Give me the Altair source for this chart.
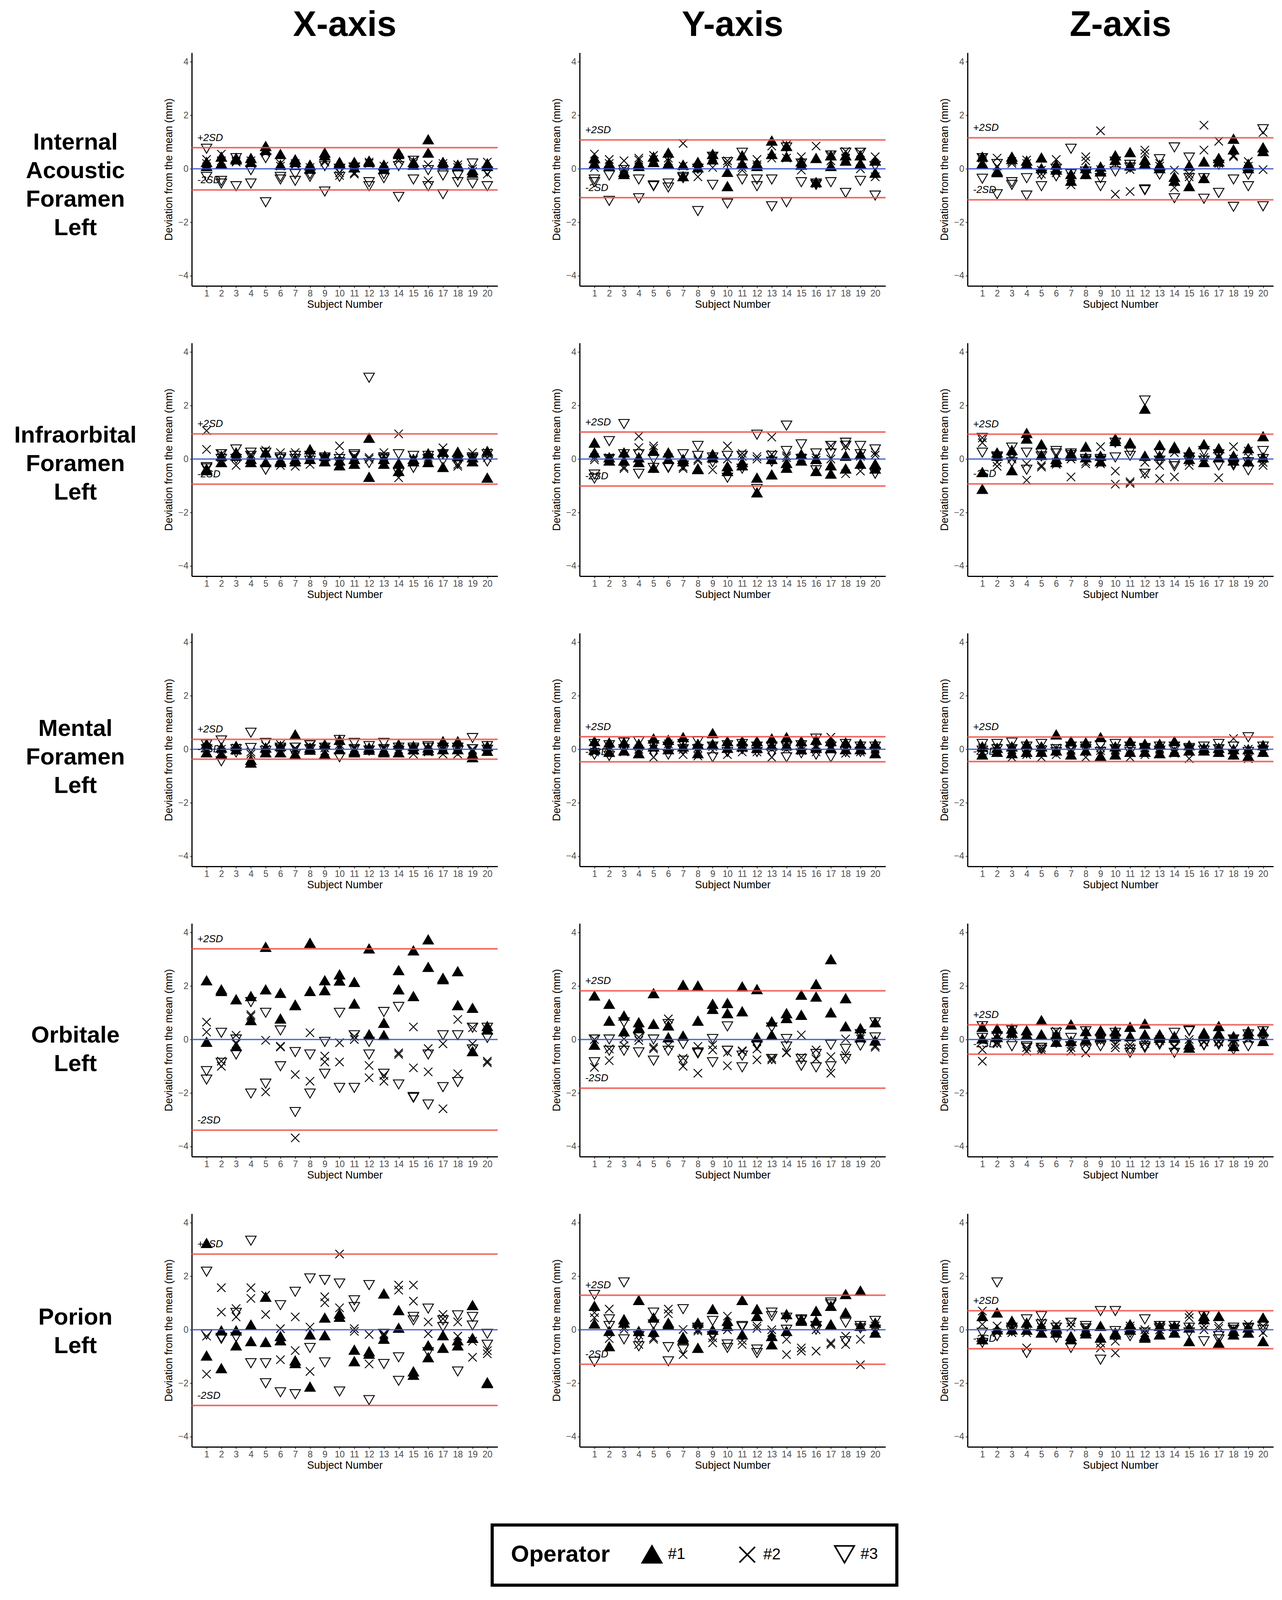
import altair as alt
import pandas as pd

SUBJECTS = list(range(1, 21))
OPERATORS = ["#1", "#2", "#3"]
SHAPES = ["triangle-up", "M-0.8,-0.8L0.8,0.8M-0.8,0.8L0.8,-0.8", "triangle-down"]
FILLS = ["black", "transparent", "transparent"]
STROKES = ["black", "black", "black"]
ROW_NAMES = ["Internal\nAcoustic\nForamen\nLeft", "Infraorbital\nForamen\nLeft",
             "Mental\nForamen\nLeft", "Orbitale\nLeft", "Porion\nLeft"]
COL_NAMES = ["X-axis", "Y-axis", "Z-axis"]

# ---- Internal Acoustic Foramen Left (two readings per operator per subject)
IAF_X_1 = [(0.25,0.1),(0.45,0.2),(0.4,0.35),(0.4,0.25),(0.85,0.7),(0.55,0.15),(0.35,0.25),(0.15,0.0),(0.6,0.5),(0.25,0.2),(0.25,0.05),(0.3,0.25),(0.15,0.0),(0.6,0.55),(0.25,0.15),(1.1,0.6),(0.25,0.15),(0.15,0.1),(-0.05,-0.15),(0.2,0.1)]
IAF_X_2 = [(0.35,0.2),(0.55,0.3),(0.3,0.25),(0.3,0.2),(0.65,0.6),(0.2,0.1),(0.2,0.15),(0.05,-0.05),(0.3,0.25),(-0.15,-0.25),(-0.15,-0.2),(0.25,0.2),(0.1,-0.05),(0.4,0.3),(0.3,0.2),(0.15,-0.45),(0.2,0.1),(0.15,0.05),(0.0,-0.1),(0.25,-0.2)]
IAF_X_3 = [(0.75,-0.3),(-0.45,-0.55),(0.4,-0.65),(-0.05,-0.55),(0.4,-1.25),(-0.3,-0.4),(-0.2,-0.45),(-0.2,-0.3),(0.1,-0.85),(0.0,-0.3),(0.05,-0.05),(-0.5,-0.65),(-0.2,-0.35),(0.1,-1.05),(0.3,-0.4),(-0.05,-0.65),(-0.25,-0.95),(-0.25,-0.5),(0.2,-0.55),(-0.1,-0.65)]
IAF_Y_1 = [(0.4,0.2),(0.2,0.1),(-0.12,-0.2),(0.2,0.1),(0.45,0.25),(0.6,0.2),(0.15,-0.28),(0.25,0.05),(0.55,0.35),(-0.12,-0.65),(0.5,0.2),(0.2,0.1),(1.05,0.55),(0.85,0.45),(0.27,0.15),(0.4,-0.5),(0.5,0.1),(0.5,0.3),(0.5,0.2),(0.3,-0.15)]
IAF_Y_2 = [(0.55,0.05),(0.35,0.2),(0.3,0.0),(0.4,0.33),(0.5,0.35),(0.4,0.3),(0.95,0.1),(0.05,-0.3),(0.45,0.05),(0.3,0.2),(0.05,-0.05),(0.35,0.15),(0.85,0.4),(0.9,0.4),(0.45,-0.05),(0.85,-0.55),(0.5,0.3),(0.65,0.4),(0.6,0.0),(0.45,-0.3)]
IAF_Y_3 = [(-0.4,-0.5),(-0.25,-1.2),(-0.05,-0.15),(-0.4,-1.1),(-0.65,-0.62),(-0.55,-0.7),(-0.35,-0.3),(0.0,-1.58),(0.45,-0.6),(0.25,-1.3),(0.6,-0.4),(-0.4,-0.65),(-0.4,-1.4),(0.8,-1.25),(0.2,-0.5),(-0.55,-0.6),(0.5,-0.5),(0.6,-0.9),(0.6,-0.45),(0.1,-1.0)]
IAF_Z_1 = [(0.45,0.2),(-0.13,-0.08),(0.45,0.36),(0.3,0.18),(0.42,0.02),(0.15,-0.03),(-0.2,-0.45),(0.02,-0.2),(0.08,-0.1),(0.5,0.33),(0.62,0.12),(0.33,0.2),(0.15,0.02),(-0.3,-0.45),(0.12,-0.65),(0.27,-0.35),(0.4,0.27),(1.12,0.72),(0.18,0.02),(0.8,0.66)]
IAF_Z_2 = [(0.4,0.27),(0.4,0.1),(0.27,0.2),(0.33,0.2),(-0.05,-0.2),(0.35,-0.15),(-0.6,-0.3),(0.45,0.3),(1.42,-0.03),(-0.95,0.2),(-0.03,-0.85),(0.7,0.57),(0.2,0.1),(-0.7,-0.05),(-0.3,-0.2),(1.63,0.7),(1.03,0.2),(0.5,0.45),(0.27,0.1),(1.36,-0.03)]
IAF_Z_3 = [(0.4,-0.37),(0.18,-0.95),(-0.5,-0.6),(-0.35,-1.0),(-0.22,-0.65),(-0.28,0.0),(0.75,-0.2),(-0.1,-0.2),(-0.35,-0.65),(0.27,-0.1),(0.15,0.05),(-0.77,-0.8),(0.36,-0.22),(0.8,-1.1),(0.42,-0.35),(-1.12,-0.35),(0.15,-0.9),(-0.4,-1.42),(-0.22,-0.65),(1.48,-1.4)]

# ---- Infraorbital Foramen Left
IOF_X_1 = [(-0.37,-0.42),(0.12,-0.12),(0.24,0.12),(0.0,-0.12),(0.24,-0.12),(-0.06,-0.12),(0.0,-0.09),(0.36,0.0),(0.12,-0.09),(-0.06,-0.24),(0.0,-0.18),(0.79,-0.67),(0.0,-0.18),(-0.15,-0.45),(0.0,-0.09),(0.21,-0.12),(0.27,-0.3),(0.27,0.1),(0.06,-0.09),(0.3,-0.7)]
IOF_X_2 = [(1.06,0.36),(0.18,0.05),(0.06,-0.24),(0.18,0.1),(0.33,0.2),(0.24,-0.24),(0.24,-0.27),(0.12,-0.2),(0.06,0.0),(0.49,0.12),(0.12,0.05),(0.06,0.0),(0.24,0.1),(0.94,-0.7),(0.0,-0.05),(0.06,0.0),(0.42,0.2),(-0.27,-0.2),(0.24,0.1),(0.24,0.05)]
IOF_X_3 = [(-0.3,-0.35),(0.18,0.0),(0.36,0.0),(0.24,0.12),(0.24,-0.4),(0.06,0.0),(0.12,0.0),(0.12,-0.06),(0.0,0.06),(0.0,-0.12),(0.18,0.12),(3.04,-0.15),(0.06,0.0),(0.18,-0.52),(0.12,-0.33),(0.0,0.12),(0.18,-0.06),(-0.06,-0.18),(0.0,0.06),(0.18,-0.09)]
IOF_Y_1 = [(0.61,0.24),(0.06,-0.06),(0.24,-0.06),(0.06,-0.12),(0.3,-0.33),(0.24,0.0),(0.0,-0.09),(-0.36,-0.38),(0.18,0.06),(-0.27,-0.45),(-0.12,-0.24),(-0.7,-1.25),(0.0,-0.58),(-0.15,-0.33),(0.18,-0.06),(0.0,-0.45),(-0.24,-0.55),(0.12,-0.36),(0.18,-0.18),(-0.18,-0.36)]
IOF_Y_2 = [(-0.03,0.05),(0.0,0.05),(-0.36,-0.3),(0.85,0.43),(0.49,0.4),(0.0,0.05),(-0.36,-0.3),(-0.06,0.0),(-0.4,0.0),(0.49,0.0),(0.21,0.1),(0.09,0.0),(0.82,0.18),(0.12,0.05),(0.0,0.05),(0.05,-0.05),(0.49,0.0),(-0.55,0.49),(-0.45,0.1),(0.24,0.15)]
IOF_Y_3 = [(-0.58,-0.73),(0.67,0.0),(1.31,0.18),(0.18,-0.55),(0.0,-0.33),(-0.3,-0.33),(0.18,-0.24),(0.49,0.12),(0.06,-0.12),(0.12,-0.7),(0.12,-0.36),(0.91,-1.12),(0.12,-0.1),(1.25,0.3),(0.55,0.0),(0.21,-0.42),(0.49,0.21),(0.61,0.5),(0.49,0.18),(0.36,-0.55)]
IOF_Z_1 = [(-0.49,-1.12),(0.24,0.12),(0.33,-0.42),(0.97,0.76),(0.55,0.15),(0.0,-0.12),(0.21,0.12),(0.46,0.06),(0.12,-0.09),(0.76,0.67),(0.61,0.58),(0.12,1.88),(0.52,0.12),(0.46,0.4),(0.27,0.0),(0.55,-0.12),(0.4,0.06),(0.12,-0.06),(0.4,-0.09),(0.85,0.06)]
IOF_Z_2 = [(0.61,0.79),(-0.12,-0.27),(0.06,0.0),(-0.79,-0.18),(-0.24,-0.3),(-0.12,-0.2),(-0.67,0.0),(-0.18,-0.1),(0.46,-0.18),(-0.45,-0.94),(-0.85,-0.91),(-0.12,-0.55),(-0.24,-0.73),(0.24,-0.67),(-0.24,-0.1),(0.06,-0.05),(-0.7,0.05),(0.46,0.0),(0.3,0.1),(-0.24,-0.12)]
IOF_Z_3 = [(0.79,0.24),(0.06,0.1),(0.43,-0.12),(0.24,-0.4),(0.21,0.1),(0.3,0.21),(0.21,0.15),(0.0,-0.06),(-0.06,0.0),(0.61,0.06),(0.3,0.12),(2.19,-0.55),(0.21,-0.06),(-0.18,-0.27),(0.06,-0.06),(0.3,-0.06),(-0.24,0.18),(-0.24,-0.18),(-0.42,-0.12),(0.3,0.0)]

# ---- Mental Foramen Left
MF_X_1 = [(0.2,-0.12),(0.06,-0.18),(0.12,0.0),(-0.4,-0.5),(0.06,-0.12),(0.12,-0.12),(0.55,-0.18),(0.06,-0.02),(0.18,-0.18),(0.35,0.0),(-0.06,-0.12),(0.06,-0.02),(-0.06,-0.12),(0.18,-0.12),(0.12,0.0),(0.06,-0.04),(0.3,0.0),(0.3,0.0),(-0.18,-0.3),(0.12,-0.06)]
MF_X_2 = [(0.05,-0.05),(-0.1,0.0),(0.05,-0.05),(-0.18,-0.1),(0.12,0.0),(0.18,0.05),(0.0,0.05),(0.12,0.0),(-0.06,0.05),(0.18,0.05),(0.0,0.05),(0.0,-0.05),(0.0,0.05),(-0.1,0.0),(-0.18,-0.05),(-0.1,0.0),(-0.18,0.0),(-0.18,0.05),(0.0,-0.05),(0.0,0.05)]
MF_X_3 = [(0.18,0.0),(0.33,-0.45),(0.0,-0.12),(0.62,0.05),(0.24,-0.06),(0.06,0.0),(0.06,-0.18),(0.15,0.0),(0.06,-0.06),(0.35,-0.3),(0.24,0.0),(0.12,-0.05),(0.24,0.0),(0.06,-0.06),(0.06,0.0),(0.06,0.12),(0.06,-0.04),(0.06,-0.06),(0.42,0.0),(0.12,-0.02)]
MF_Y_1 = [(0.3,0.0),(0.25,-0.1),(0.25,-0.05),(0.2,-0.15),(0.4,0.1),(0.35,0.0),(0.45,0.1),(0.2,-0.15),(0.6,0.2),(0.3,0.05),(0.3,0.1),(0.3,0.05),(0.4,0.15),(0.45,0.15),(0.3,0.0),(0.35,0.05),(0.3,0.05),(0.25,0.0),(0.2,0.0),(0.2,-0.15)]
MF_Y_2 = [(-0.1,0.05),(0.1,-0.05),(-0.1,0.0),(0.0,-0.1),(-0.3,0.0),(0.2,0.05),(-0.2,0.0),(-0.25,0.05),(0.1,-0.05),(-0.2,0.05),(-0.1,0.05),(-0.1,0.0),(-0.3,0.0),(0.0,0.1),(0.1,-0.05),(-0.1,0.05),(0.45,0.0),(-0.15,0.05),(-0.1,0.05),(0.0,0.05)]
MF_Y_3 = [(0.2,-0.2),(0.15,-0.25),(0.25,0.0),(0.3,-0.1),(0.15,-0.15),(0.1,-0.2),(0.2,0.0),(0.3,0.0),(-0.3,0.1),(0.15,-0.1),(0.2,0.0),(0.1,-0.1),(-0.15,0.1),(-0.3,0.1),(-0.15,0.15),(0.4,-0.2),(-0.3,0.1),(0.2,-0.1),(0.1,-0.1),(0.1,-0.1)]
MF_Z_1 = [(0.1,-0.2),(0.05,-0.1),(0.1,-0.15),(0.2,-0.1),(0.1,-0.1),(0.55,-0.05),(0.3,-0.2),(0.25,-0.05),(0.45,-0.25),(0.1,-0.2),(0.3,-0.1),(0.2,-0.1),(0.2,-0.15),(0.3,-0.1),(0.15,-0.05),(0.05,-0.05),(0.05,-0.1),(0.0,-0.2),(0.0,-0.25),(0.15,-0.1)]
MF_Z_2 = [(-0.1,0.05),(-0.05,0.05),(-0.3,0.0),(-0.2,0.05),(-0.3,0.0),(-0.2,0.05),(0.0,-0.05),(-0.3,0.0),(-0.05,0.05),(0.0,-0.05),(-0.3,0.0),(-0.2,0.05),(0.0,0.05),(-0.15,0.0),(-0.35,0.0),(0.0,0.05),(-0.1,0.0),(0.4,0.0),(-0.35,0.0),(0.0,-0.05)]
MF_Z_3 = [(0.2,-0.05),(0.2,0.0),(0.25,0.0),(0.1,-0.15),(0.2,-0.05),(0.0,-0.1),(0.1,-0.05),(0.1,0.0),(0.15,-0.1),(0.2,0.0),(0.1,-0.1),(0.05,0.0),(0.1,-0.05),(0.1,0.0),(0.0,0.05),(0.1,-0.05),(0.2,0.0),(-0.2,0.1),(0.45,-0.1),(0.1,-0.05)]

# ---- Orbitale Left
ORB_X_1 = [(2.21,-0.09),(1.87,1.81),(1.5,-0.25),(1.62,0.72),(1.87,3.46),(1.74,0.78),(1.28,1.3),(3.61,1.81),(2.21,1.84),(2.43,2.2),(2.15,1.34),(3.4,0.19),(0.62,0.16),(2.59,1.87),(3.33,1.62),(3.74,2.71),(2.3,2.25),(2.55,1.28),(1.18,-0.44),(0.5,0.37)]
ORB_X_2 = [(0.65,0.28),(-0.81,-1.0),(0.16,-0.16),(0.93,0.87),(-0.03,-1.96),(-0.25,-0.28),(-1.31,-3.68),(0.25,-1.56),(-0.62,-0.84),(-0.12,-0.84),(0.12,0.0),(-0.97,-1.43),(-1.34,-1.56),(-0.56,-0.5),(0.47,-1.06),(-0.34,-1.21),(-0.16,-2.59),(0.75,-1.28),(-0.16,0.44),(-0.81,-0.87)]
ORB_X_3 = [(-1.18,-1.5),(0.25,-0.87),(0.0,-0.56),(1.4,-2.02),(1.0,-1.65),(0.34,-1.0),(-0.47,-2.71),(-0.56,-2.02),(-0.09,-1.28),(1.0,-1.81),(0.16,-1.81),(-0.09,-0.56),(1.03,-1.28),(1.22,-1.68),(-2.15,-2.18),(-0.56,-2.43),(0.16,-1.78),(0.16,-1.59),(0.44,-0.37),(0.44,0.06)]
ORB_Y_1 = [(1.64,-0.2),(1.33,0.7),(0.89,0.3),(0.64,0.45),(0.58,1.73),(0.52,0.08),(2.04,0.14),(2.01,0.7),(1.33,1.14),(1.36,0.98),(1.98,1.05),(1.88,0.08),(0.67,0.17),(0.98,0.8),(1.67,0.92),(2.07,1.6),(3.0,1.01),(1.54,0.49),(0.42,0.08),(0.64,-0.04)]
ORB_Y_2 = [(-1.04,0.0),(-0.35,-0.79),(0.02,-0.23),(0.08,-0.04),(-0.29,-0.35),(0.77,-0.23),(-0.7,-1.0),(-0.26,-1.26),(-0.2,-0.39),(-0.48,-0.98),(-0.42,-0.45),(-0.35,-0.76),(-0.7,-0.76),(-0.48,-0.5),(0.17,-0.67),(-0.39,-0.73),(-0.64,-1.26),(0.02,-0.6),(0.02,0.1),(-0.23,-0.29)]
ORB_Y_3 = [(0.0,-0.85),(0.0,-0.42),(0.64,-0.42),(0.08,-0.48),(0.0,-0.79),(0.58,-0.42),(-0.17,-0.79),(-0.48,-0.52),(0.02,-0.85),(0.49,-0.42),(-0.6,-1.04),(-0.17,-0.23),(0.45,-0.73),(0.02,-0.26),(-0.73,-0.98),(-0.54,-1.04),(-0.2,-1.0),(-0.35,-0.73),(0.2,-0.23),(0.64,0.08)]
ORB_Z_1 = [(0.47,0.03),(0.4,0.09),(0.4,0.25),(0.34,0.19),(0.72,0.19),(0.19,-0.09),(0.56,-0.06),(0.31,0.0),(0.34,0.12),(0.31,0.12),(0.47,0.12),(0.59,0.19),(0.19,0.06),(0.12,0.06),(-0.19,-0.31),(0.25,0.2),(0.5,0.22),(0.12,-0.25),(0.31,0.19),(0.31,-0.06)]
ORB_Z_2 = [(-0.38,-0.81),(-0.16,-0.1),(0.19,0.1),(-0.44,-0.3),(-0.38,-0.3),(0.31,0.1),(-0.44,-0.3),(-0.5,-0.19),(-0.06,0.0),(-0.31,-0.2),(-0.19,-0.3),(-0.06,-0.15),(0.0,-0.05),(-0.25,-0.3),(0.0,-0.1),(-0.06,-0.1),(-0.06,-0.1),(0.0,-0.05),(0.0,0.05),(0.0,0.05)]
ORB_Z_3 = [(0.5,0.06),(0.12,-0.12),(0.34,-0.25),(-0.25,-0.31),(-0.31,-0.38),(0.25,-0.12),(0.06,-0.25),(0.31,-0.38),(-0.25,0.0),(0.25,0.0),(-0.5,-0.38),(-0.25,-0.31),(-0.19,-0.12),(0.25,-0.5),(0.34,0.31),(-0.22,-0.19),(-0.12,-0.19),(-0.38,0.0),(-0.25,0.19),(0.31,0.0)]

# ---- Porion Left
POR_X_1 = [(3.24,-0.97),(-0.03,-1.44),(-0.03,-0.59),(0.19,-0.43),(1.23,-0.46),(-0.24,-0.4),(-1.15,-1.25),(-0.18,-2.13),(0.45,-0.21),(0.6,0.48),(-0.75,-1.18),(-0.81,-0.9),(1.35,-0.34),(0.73,0.07),(-1.56,-1.69),(-0.59,-1.03),(-0.21,-0.68),(-0.4,-0.59),(0.92,-0.31),(-1.97,-2.0)]
POR_X_2 = [(-0.24,-1.66),(1.57,0.66),(0.79,0.48),(1.57,1.17),(0.57,1.29),(0.04,-1.12),(0.48,-0.78),(0.1,-1.56),(1.23,1.01),(2.83,0.82),(0.04,-0.06),(-0.18,-1.28),(-0.15,-0.2),(1.67,1.48),(1.67,1.07),(0.29,-0.15),(0.57,0.41),(0.29,-0.24),(-0.43,-1.03),(-0.78,-0.9)]
POR_X_3 = [(2.17,-0.18),(-0.34,-0.3),(0.63,-0.28),(3.33,-1.25),(-1.25,-2.0),(0.92,-2.34),(1.42,-2.41),(1.92,-0.68),(1.86,-1.22),(1.73,-2.31),(1.1,0.85),(1.67,-2.63),(-0.15,-1.28),(-1.03,-1.91),(0.48,0.35),(0.79,-0.84),(0.35,0.1),(0.54,-1.56),(0.48,0.16),(-0.15,-0.56)]
POR_Y_1 = [(0.89,0.23),(-0.05,-0.62),(0.39,0.26),(1.11,-0.05),(0.45,-0.08),(0.26,0.2),(-0.27,-0.36),(0.26,-0.68),(0.77,0.0),(0.33,0.14),(1.11,-0.18),(0.77,0.51),(-0.24,-0.55),(0.58,-0.05),(0.39,0.33),(0.7,0.33),(0.89,0.2),(1.33,0.64),(1.46,0.14),(0.26,-0.11)]
POR_Y_2 = [(0.64,0.45),(0.77,-0.33),(0.01,0.1),(-0.55,-0.2),(-0.36,-0.3),(0.77,0.6),(0.01,-0.93),(0.01,-0.05),(-0.49,-0.3),(0.51,0.0),(-0.55,-0.4),(0.14,0.05),(0.0,-0.1),(-0.36,-0.93),(-0.68,-0.8),(-0.8,0.0),(-0.55,-0.49),(-0.24,-0.55),(-1.31,-0.36),(0.14,0.0)]
POR_Y_3 = [(1.3,-1.2),(0.39,0.14),(1.77,-0.36),(-0.62,-0.24),(0.64,0.2),(-0.65,-1.18),(0.77,-0.74),(0.08,0.0),(0.33,-0.24),(-0.55,-0.68),(0.14,0.1),(-0.87,-0.74),(0.64,0.51),(0.45,0.0),(0.39,0.35),(0.14,0.0),(1.02,0.95),(0.26,-0.43),(0.14,0.05),(0.33,0.0)]
POR_Z_1 = [(0.51,-0.36),(0.64,0.01),(0.33,0.01),(0.26,0.0),(0.14,-0.11),(0.08,-0.11),(-0.24,-0.36),(-0.05,-0.14),(0.14,-0.3),(-0.11,-0.18),(0.2,0.0),(-0.24,-0.3),(0.14,-0.18),(0.14,-0.11),(-0.43,0.08),(0.51,0.39),(0.51,-0.49),(-0.05,-0.18),(0.08,-0.11),(0.45,-0.43)]
POR_Z_2 = [(0.7,0.2),(0.14,-0.11),(-0.11,0.0),(-0.68,-0.11),(0.26,0.1),(0.2,0.05),(0.26,0.1),(0.08,0.0),(-0.68,-0.5),(-0.43,-0.87),(0.14,0.05),(-0.11,0.0),(0.14,0.0),(0.0,0.1),(0.58,0.45),(0.14,0.0),(0.14,0.05),(0.0,0.05),(0.2,0.1),(0.14,-0.11)]
POR_Z_3 = [(-0.11,-0.49),(1.77,-0.24),(0.08,-0.05),(0.39,-0.87),(0.51,0.2),(-0.3,0.08),(0.26,-0.68),(0.14,0.05),(0.7,-1.12),(0.7,-0.05),(-0.11,-0.24),(0.39,-0.1),(0.14,0.05),(0.14,0.0),(0.08,-0.1),(-0.43,0.51),(-0.24,-0.36),(0.08,0.0),(0.08,0.05),(0.14,0.0)]

# 2SD limits per panel (rows = landmarks, cols = X, Y, Z)
SD_IAF = [0.79, 1.08, 1.16]
SD_IOF = [0.94, 1.01, 0.93]
SD_MF = [0.37, 0.47, 0.46]
SD_ORB = [3.39, 1.82, 0.55]
SD_POR = [2.83, 1.29, 0.71]

GRID = [
    [(IAF_X_1, IAF_X_2, IAF_X_3), (IAF_Y_1, IAF_Y_2, IAF_Y_3), (IAF_Z_1, IAF_Z_2, IAF_Z_3)],
    [(IOF_X_1, IOF_X_2, IOF_X_3), (IOF_Y_1, IOF_Y_2, IOF_Y_3), (IOF_Z_1, IOF_Z_2, IOF_Z_3)],
    [(MF_X_1, MF_X_2, MF_X_3), (MF_Y_1, MF_Y_2, MF_Y_3), (MF_Z_1, MF_Z_2, MF_Z_3)],
    [(ORB_X_1, ORB_X_2, ORB_X_3), (ORB_Y_1, ORB_Y_2, ORB_Y_3), (ORB_Z_1, ORB_Z_2, ORB_Z_3)],
    [(POR_X_1, POR_X_2, POR_X_3), (POR_Y_1, POR_Y_2, POR_Y_3), (POR_Z_1, POR_Z_2, POR_Z_3)],
]
SDS = [SD_IAF, SD_IOF, SD_MF, SD_ORB, SD_POR]

# ---- layout / style
FONT = "Liberation Sans"
PANEL_W, PANEL_H = 783, 597
LABEL_W = 268
H_SPACE = 210
V_SPACE = 86
RED = "#EE5048"
BLUE = "#3552C8"
LABEL_X = 0.37
LABEL_DY = 0.37
ROW_LABEL_CENTER = [339, 310, 318, 323, 302]
ROW_LINE_H = 73

XAXIS = alt.Axis(values=SUBJECTS, format="d", title="Subject Number", grid=False,
                 labelFontSize=23, labelColor="#4d4d4d", labelPadding=3, labelOverlap=False,
                 labelFlush=False, tickSize=5, tickColor="#333333", tickWidth=2,
                 domainColor="black", domainWidth=3, titleFontSize=27,
                 titleFontWeight="normal", titleColor="black", titlePadding=3)
YAXIS = alt.Axis(values=[-4, -2, 0, 2, 4], format="d", title="Deviation from the mean (mm)",
                 grid=False, labelFontSize=23, labelColor="#4d4d4d", labelPadding=4,
                 tickSize=5, tickColor="#333333", tickWidth=2, domainColor="black",
                 domainWidth=3, titleFontSize=27, titleFontWeight="normal",
                 titleColor="black", titlePadding=9)

LEGEND = alt.Legend(title="Operator", orient="none", legendX=1247, legendY=3891,
                    direction="horizontal", titleOrient="left", titleFontSize=60,
                    titleFontWeight="bold", titleColor="black", titleAnchor="middle",
                    titleBaseline="middle", titlePadding=80, titleLimit=500,
                    labelFontSize=40, labelColor="black", labelOffset=14, labelLimit=200,
                    symbolSize=2500, symbolStrokeWidth=4, symbolStrokeColor="black",
                    columnPadding=130, padding=48, strokeColor="black")


def frame(op_lists):
    rows = []
    for op, pairs in zip(OPERATORS, op_lists):
        for s, vals in zip(SUBJECTS, pairs):
            for v in vals:
                rows.append({"Subject": s, "Deviation": v, "Operator": op})
    return pd.DataFrame(rows)


def panel(op_lists, sd):
    xs = alt.Scale(domain=[0, 20.7], nice=False, zero=False)
    ys = alt.Scale(domain=[-4.38, 4.34], nice=False, zero=False)
    pts = alt.Chart(frame(op_lists)).mark_point(
        size=720, strokeWidth=2.3, opacity=1
    ).encode(
        x=alt.X("Subject:Q", scale=xs, axis=XAXIS),
        y=alt.Y("Deviation:Q", scale=ys, axis=YAXIS),
        shape=alt.Shape("Operator:N", scale=alt.Scale(domain=OPERATORS, range=SHAPES), legend=LEGEND),
        fill=alt.Fill("Operator:N", scale=alt.Scale(domain=OPERATORS, range=FILLS), legend=LEGEND),
        stroke=alt.Stroke("Operator:N", scale=alt.Scale(domain=OPERATORS, range=STROKES), legend=LEGEND),
    )
    lim = pd.DataFrame({"Deviation": [sd, -sd]})
    red = alt.Chart(lim).mark_rule(color=RED, strokeWidth=4, opacity=0.85).encode(
        y=alt.Y("Deviation:Q"))
    zero = alt.Chart(pd.DataFrame({"Deviation": [0.0]})).mark_rule(
        color=BLUE, strokeWidth=3.2, opacity=0.9).encode(y=alt.Y("Deviation:Q"))
    lab = pd.DataFrame({"Subject": [LABEL_X, LABEL_X],
                        "Deviation": [sd + LABEL_DY, -sd + LABEL_DY],
                        "label": ["+2SD", "-2SD"]})
    txt = alt.Chart(lab).mark_text(align="left", baseline="middle", fontStyle="italic",
                                   fontSize=26, color="black").encode(
        x=alt.X("Subject:Q"), y=alt.Y("Deviation:Q"), text="label:N")
    return alt.layer(pts, red, zero, txt).properties(width=PANEL_W, height=PANEL_H)


def row_label(name, yc):
    n_lines = name.count("\n") + 1
    y_first = yc - (n_lines - 1) * ROW_LINE_H / 2
    return alt.Chart(pd.DataFrame({"t": [name]})).mark_text(
        fontSize=60, fontWeight="bold", lineBreak="\n", lineHeight=ROW_LINE_H,
        align="center", baseline="middle", color="black"
    ).encode(text="t:N", x=alt.value(180), y=alt.value(y_first)).properties(
        width=LABEL_W, height=PANEL_H)


def col_title(name):
    return alt.Chart(pd.DataFrame({"t": [name]})).mark_text(
        fontSize=90, fontWeight="bold", align="center", baseline="middle", color="black"
    ).encode(text="t:N", x=alt.value(PANEL_W / 2), y=alt.value(52)).properties(
        width=PANEL_W, height=100)


def blank(h):
    return alt.Chart(pd.DataFrame({"t": [""]})).mark_text().encode(text="t:N").properties(
        width=LABEL_W, height=h)


title_row = alt.hconcat(blank(100), *[col_title(c) for c in COL_NAMES],
                        spacing=H_SPACE, bounds="flush")

rows = []
for r, name in enumerate(ROW_NAMES):
    cells = [row_label(name, ROW_LABEL_CENTER[r])]
    for c in range(3):
        cells.append(panel(GRID[r][c], SDS[r][c]))
    rows.append(alt.hconcat(*cells, spacing=H_SPACE, bounds="flush"))

body = alt.vconcat(*rows, spacing=V_SPACE)

# spacer below the grid keeps the legend area inside the drawing
chart = alt.vconcat(title_row, body, blank(272), spacing=22).configure(
    font=FONT
).configure_view(stroke=None).configure_legend(strokeWidth=8)

chart.save("out.html", embed_options={"renderer": "svg", "actions": False})
